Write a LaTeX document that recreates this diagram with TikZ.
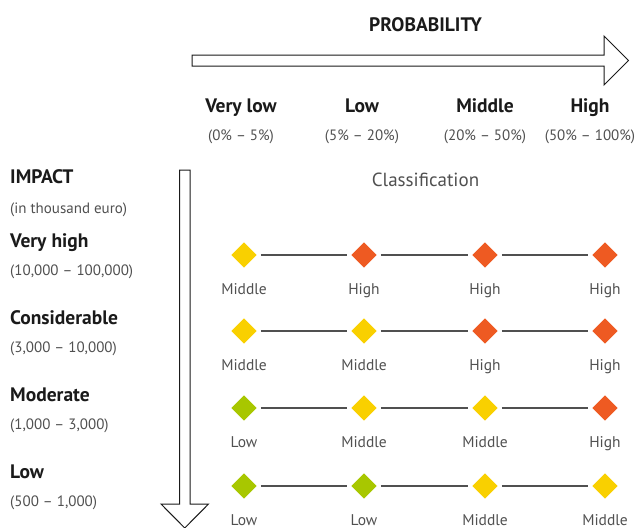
\documentclass[tikz,border=0pt]{standalone}
\usepackage{fontspec}
\setmainfont{PT Sans}
\usetikzlibrary{shapes.geometric,positioning}
\definecolor{risklow}{HTML}{A8C700}
\definecolor{riskmid}{HTML}{F9D000}
\definecolor{riskhigh}{HTML}{EE5A22}
\definecolor{inkdark}{HTML}{1A1A1A}
\definecolor{inkgray}{HTML}{505050}

\begin{document}
\begin{tikzpicture}
[x=1pt,y=-1pt,%
  every node/.style={inner sep=0pt,anchor=base},%
  headtext/.style={text=inkdark,font=\fontsize{19.5}{22}\selectfont\bfseries},%
  spantext/.style={text=inkgray,font=\fontsize{15}{18}\selectfont},%
  classtext/.style={text=inkgray,font=\fontsize{15.5}{18}\selectfont,anchor=north,below=15pt of #1},%
  risk/.style={shape=diamond,fill=#1,minimum size=25.5pt,anchor=center},%
  link/.style={draw=inkgray,line width=1.1pt,shorten <=4pt,shorten >=4pt},%
  bigarrow/.style={draw=inkdark,line width=1pt,fill=white,line join=miter}]
\useasboundingbox (0,0) rectangle (636,527);

\draw[bigarrow] (192,55) -- (604,55) -- (604,36) -- (628.5,60.5) -- (604,85)
  -- (604,66) -- (192,66) -- cycle;
\draw[bigarrow] (179.5,170) -- (190,170) -- (190,504) -- (208.5,504) -- (184.75,528)
  -- (161,504) -- (179.5,504) -- cycle;

\node[headtext] (prob) at (425.5,31.5) {PROBABILITY};
\node[headtext] (p1) at (241,112.5) {Very low};
\node[headtext] (p2) at (362,112.5) {Low};
\node[headtext] (p3) at (485,112.5) {Middle};
\node[headtext] (p4) at (590,112.5) {High};
\node[spantext] (r1) at (241,140) {(0\% -- 5\%)};
\node[spantext] (r2) at (362,140) {(5\% -- 20\%)};
\node[spantext] (r3) at (485,140) {(20\% -- 50\%)};
\node[spantext] (r4) at (590,140) {(50\% -- 100\%)};

\node[headtext,anchor=base west] (imp) at (10,183) {IMPACT};
\node[spantext,anchor=base west] (unit) at (10,213) {(in thousand euro)};
\node[headtext,anchor=base west] (i1) at (10,247.5) {Very high};
\node[spantext,anchor=base west] (s1) at (10,275) {(10,000 -- 100,000)};
\node[headtext,anchor=base west] (i2) at (10,324.5) {Considerable};
\node[spantext,anchor=base west] (s2) at (10,352) {(3,000 -- 10,000)};
\node[headtext,anchor=base west] (i3) at (10,401.5) {Moderate};
\node[spantext,anchor=base west] (s3) at (10,429) {(1,000 -- 3,000)};
\node[headtext,anchor=base west] (i4) at (10,478) {Low};
\node[spantext,anchor=base west] (s4) at (10,506) {(500 -- 1,000)};

\node[text=inkgray,font=\fontsize{19}{22}\selectfont] (cls) at (425.5,186.5) {Classification};

\node[risk=riskmid] (d11) at (244,255) {};
\node[risk=riskhigh] (d12) at (364,255) {};
\node[risk=riskhigh] (d13) at (485,255) {};
\node[risk=riskhigh] (d14) at (605,255) {};
\node[risk=riskmid] (d21) at (244,331) {};
\node[risk=riskmid] (d22) at (364,331) {};
\node[risk=riskhigh] (d23) at (485,331) {};
\node[risk=riskhigh] (d24) at (605,331) {};
\node[risk=risklow] (d31) at (244,408) {};
\node[risk=riskmid] (d32) at (364,408) {};
\node[risk=riskmid] (d33) at (485,408) {};
\node[risk=riskhigh] (d34) at (605,408) {};
\node[risk=risklow] (d41) at (244,486) {};
\node[risk=risklow] (d42) at (364,486) {};
\node[risk=riskmid] (d43) at (485,486) {};
\node[risk=riskmid] (d44) at (605,486) {};

\node[classtext=d11] (c11) {Middle};
\node[classtext=d12] (c12) {High};
\node[classtext=d13] (c13) {High};
\node[classtext=d14] (c14) {High};
\node[classtext=d21] (c21) {Middle};
\node[classtext=d22] (c22) {Middle};
\node[classtext=d23] (c23) {High};
\node[classtext=d24] (c24) {High};
\node[classtext=d31] (c31) {Low};
\node[classtext=d32] (c32) {Middle};
\node[classtext=d33] (c33) {Middle};
\node[classtext=d34] (c34) {High};
\node[classtext=d41] (c41) {Low};
\node[classtext=d42] (c42) {Low};
\node[classtext=d43] (c43) {Middle};
\node[classtext=d44] (c44) {Middle};

\foreach \r in {1,2,3,4}{
  \draw[link] (d\r1) -- (d\r2);
  \draw[link] (d\r2) -- (d\r3);
  \draw[link] (d\r3) -- (d\r4);
}
\end{tikzpicture}
\end{document}
